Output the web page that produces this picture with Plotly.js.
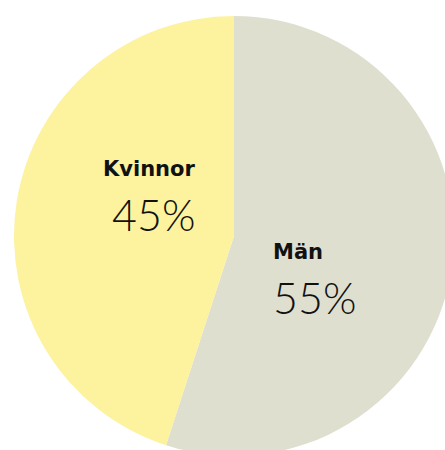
<!DOCTYPE html>
<html>
<head>
<meta charset="utf-8">
<script src="https://cdn.plot.ly/plotly-3.0.1.min.js"></script>
<style>
html, body { margin: 0; padding: 0; overflow: hidden; background: #ffffff; }
#chart { width: 470px; height: 470px; }
</style>
</head>
<body>
<div id="chart"></div>
<script>
const labels = ['Män', 'Kvinnor'];
const values = [55, 45];
const colors = ['#dfdfd0', '#fdf29e'];

const W = 470, H = 470;
const px = x => x / W;
const py = y => 1 - y / H;

// label positions (pixel layout, not data)
const labelPos = [
  { x: 271, yLabel: 252, yPct: 297 },
  { x: 101, yLabel: 169, yPct: 214 }
];

const annotations = [];
labels.forEach((lab, i) => {
  annotations.push({
    xref: 'paper', yref: 'paper',
    x: px(labelPos[i].x), y: py(labelPos[i].yLabel),
    xanchor: 'left', yanchor: 'middle',
    text: '<b>' + lab + '</b>',
    showarrow: false,
    font: { family: 'DejaVu Sans', size: 21, color: '#111111' }
  });
  annotations.push({
    xref: 'paper', yref: 'paper',
    x: px(labelPos[i].x + (i === 1 ? 9 : 0)), y: py(labelPos[i].yPct),
    xanchor: 'left', yanchor: 'middle',
    text: values[i] + '%',
    showarrow: false,
    font: { family: 'Lato', size: 43, color: '#111111', weight: 300 }
  });
});

const data = [{
  type: 'pie',
  labels: labels,
  values: values,
  sort: false,
  direction: 'clockwise',
  rotation: 0,
  marker: { colors: colors, line: { width: 0 } },
  textinfo: 'none',
  hoverinfo: 'none',
  showlegend: false,
  domain: { x: [14 / W, 454 / W], y: [1 - 456 / H, 1 - 16 / H] }
}];

const layout = {
  width: W, height: H,
  margin: { l: 0, r: 0, t: 0, b: 0 },
  paper_bgcolor: '#ffffff',
  showlegend: false,
  annotations: annotations
};

Plotly.newPlot('chart', data, layout, { displayModeBar: false, staticPlot: true });
</script>
</body>
</html>
